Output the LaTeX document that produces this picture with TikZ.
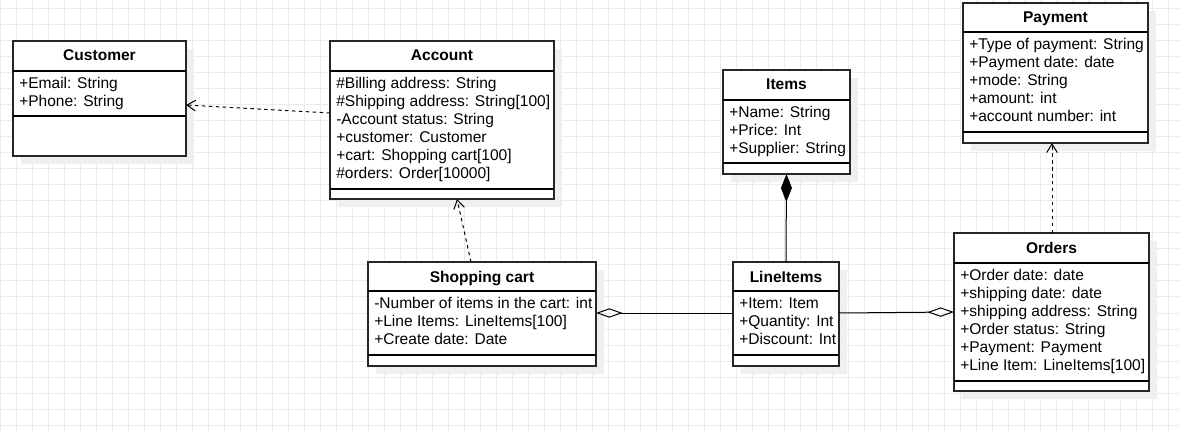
\documentclass[tikz,border=0pt]{standalone}
\usepackage{fontspec}
\setmainfont{Liberation Sans}
\usetikzlibrary{arrows.meta,calc}
\definecolor{gridc}{HTML}{EBEBEB}
\definecolor{shadowc}{HTML}{EFEFEF}
\newcommand\attrfont{\fontsize{11.65pt}{13.5pt}\selectfont}
\tikzset{
 classbox/.style={draw=black!85, fill=white, line width=1pt, inner sep=0pt, outer sep=0pt, anchor=north west},
 sepline/.style={line width=0.8pt},
 attr/.style={anchor=base west, inner sep=0pt, font=\attrfont},
 title/.style={anchor=base, inner sep=0pt, font=\attrfont\bfseries},
 dep/.style={line width=0.75pt, dash pattern=on 2.6pt off 2.6pt, -{Straight Barb[length=6.5pt,width=8pt]}},
 agg/.style={line width=0.75pt, {Diamond[open,length=20pt,width=7pt,line width=0.75pt]}-},
 comp/.style={line width=0.75pt, {Diamond[length=21pt,width=8.25pt]}-},
}
\newcommand\umlclass[9]{%
 \fill[shadowc] (#2+8,#3+8) rectangle (#4+8,#7+8);
 \node[classbox, minimum width={(#4-#2)*0.75pt}, minimum height={(#7-#3)*0.75pt}] (#1) at (#2,#3) {};
 \draw[sepline] (#2,#5) -- (#4,#5);
 \draw[sepline] (#2,#6) -- (#4,#6);
 \node[title] (#1-t) at ({(#2+#4)/2},#3+20) {#8};
 \foreach \s [count=\i] in {#9} {\node[attr] (#1-a\i) at (#2+6,#5+17.8+18*\i-18) {\s};}
}
\begin{document}
\begin{tikzpicture}[x=0.75pt,y=-0.75pt]
\useasboundingbox (0,0) rectangle (1179,431);
\fill[white] (0,0) rectangle (1179,431);
\foreach \k in {0,...,73} {\draw[gridc, line width=0.75pt] (16*\k+0.5,0) -- (16*\k+0.5,431);}
\foreach \k in {0,...,26} {\draw[gridc, line width=0.75pt] (0,16*\k+9) -- (1179,16*\k+9);}

\umlclass{cust}{13}{41}{186}{71}{116}{156}{Customer}{+Email: String,+Phone: String}
\umlclass{acc}{330}{41}{554}{71}{189}{199}{Account}{\#Billing address: String,\#Shipping address: String[100],-Account status: String,+customer: Customer,+cart: Shopping cart[100],\#orders: Order[10000]}
\umlclass{items}{723}{70}{850}{100}{163}{174}{Items}{+Name: String,+Price: Int,+Supplier: String}
\umlclass{li}{733}{262}{839}{291}{355}{366}{LineItems}{+Item: Item,+Quantity: Int,+Discount: Int}
\umlclass{cart}{368}{262}{596}{291}{355}{366}{Shopping cart}{-Number of items in the cart: int,+Line Items: LineItems[100],+Create date: Date}
\umlclass{pay}{963}{3}{1148}{32}{132}{143}{Payment}{+Type of payment: String,+Payment date: date,+mode: String,+amount: int,+account number: int}
\umlclass{ord}{954}{233}{1149}{263}{381}{391}{Orders}{+Order date: date,+shipping date: date,+shipping address: String,+Order status: String,+Payment: Payment,+Line Item: LineItems[100]}

\draw[dep] ($(acc.north west)+(0,72)$) -- ($(cust.north east)+(0,64)$);
\draw[dep] ($(cart.north west)+(103,0)$) -- ($(acc.south west)+(127,0)$);
\draw[agg] ($(cart.north east)+(0,51)$) -- ($(li.north west)+(0,51)$);
\draw[agg] ($(ord.north west)+(0,79)$) -- ($(li.north east)+(0,51)$);
\draw[comp] (items.south) -- (li.north);
\draw[dep] ($(ord.north west)+(98,0)$) -- ($(pay.south west)+(89,0)$);
\end{tikzpicture}
\end{document}
